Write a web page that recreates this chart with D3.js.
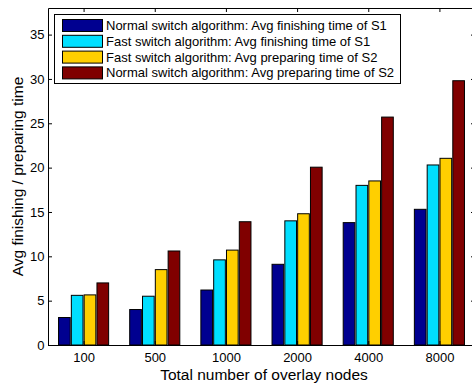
<!DOCTYPE html>
<html>
<head>
<meta charset="utf-8">
<script src="https://cdn.jsdelivr.net/npm/d3@7"></script>
<style>
  html, body { margin: 0; padding: 0; background: #fff; }
  svg { display: block; font-family: "Liberation Sans", Arial, Helvetica, sans-serif; }
</style>
</head>
<body>
<svg id="chart" width="472" height="386"></svg>
<script>
// Number of overlay nodes on the x axis
const categories = ["100", "500", "1000", "2000", "4000", "8000"];

// One array per series, in category order
const normalFinishS1 = [3.1, 4.0, 6.2, 9.1, 13.8, 15.3];
const fastFinishS1   = [5.6, 5.5, 9.6, 14.0, 18.0, 20.3];
const fastPrepareS2  = [5.65, 8.5, 10.7, 14.8, 18.5, 21.05];
const normalPrepareS2 = [7.0, 10.6, 13.9, 20.05, 25.7, 29.8];

const seriesNames = [
  "Normal switch algorithm: Avg finishing time of S1",
  "Fast switch algorithm: Avg finishing time of S1",
  "Fast switch algorithm: Avg preparing time of S2",
  "Normal switch algorithm: Avg preparing time of S2"
];
const seriesValues = [normalFinishS1, fastFinishS1, fastPrepareS2, normalPrepareS2];
const seriesColors = ["#000090", "#00DFFF", "#FFCF00", "#800000"];

const yTicks = [0, 5, 10, 15, 20, 25, 30, 35];

const svg = d3.select("#chart");
const plotLeft = 48, plotRight = 475, plotTop = 8, plotBottom = 345;

// Bars sit at integer positions 1..n, axis spans half a slot either side
const x = d3.scaleLinear().domain([0.5, categories.length + 0.5]).range([plotLeft, plotRight]);
const y = d3.scaleLinear().domain([0, 38]).range([plotBottom, plotTop]);

const barStep = 0.18, barWidth = 0.164;

const groups = svg.append("g");
seriesValues.forEach((vals, s) => {
  groups.selectAll(null)
    .data(vals)
    .enter()
    .append("rect")
    .attr("x", (d, i) => x(i + 1 + (s - 1.5) * barStep - barWidth / 2))
    .attr("width", x(barWidth) - x(0))
    .attr("y", d => y(d))
    .attr("height", d => y(0) - y(d))
    .attr("fill", seriesColors[s])
    .attr("stroke", "#000")
    .attr("stroke-width", 1);
});

// Axes: ticks point inward on all four sides
const tickVals = categories.map((c, i) => i + 1);
const xBottom = d3.axisBottom(x).tickValues(tickVals).tickFormat((d, i) => categories[i])
  .tickSizeInner(-4).tickSizeOuter(0).tickPadding(7.5);
const xTop = d3.axisTop(x).tickValues(tickVals).tickFormat("").tickSizeInner(-4).tickSizeOuter(0);
const yLeft = d3.axisLeft(y).tickValues(yTicks).tickSizeInner(-4).tickSizeOuter(0).tickPadding(3.5);
const yRight = d3.axisRight(y).tickValues(yTicks).tickFormat("").tickSizeInner(-4).tickSizeOuter(0);

function styleAxis(g) {
  g.select(".domain").attr("stroke", "#000").attr("stroke-width", 1);
  g.selectAll(".tick line").attr("stroke", "#000");
  g.selectAll(".tick text").attr("fill", "#000").style("font-size", "13px")
    .style("font-family", "Liberation Sans, Arial, sans-serif");
}

svg.append("g").attr("transform", `translate(0,${plotBottom})`).call(xBottom).call(styleAxis);
svg.append("g").attr("transform", `translate(0,${plotTop})`).call(xTop).call(styleAxis);
svg.append("g").attr("transform", `translate(${plotLeft},0)`).call(yLeft).call(styleAxis);
svg.append("g").attr("transform", `translate(${plotRight},0)`).call(yRight).call(styleAxis);

// Axis titles
svg.append("text")
  .attr("x", 264)
  .attr("y", 380)
  .attr("text-anchor", "middle")
  .style("font-size", "15.5px")
  .text("Total number of overlay nodes");

svg.append("text")
  .attr("transform", `translate(23,${(plotTop + plotBottom) / 2}) rotate(-90)`)
  .attr("text-anchor", "middle")
  .style("font-size", "15.5px")
  .text("Avg finishing / preparing time");

// Legend in the upper-left corner
const legend = svg.append("g").attr("transform", "translate(54.5,14.5)");
legend.append("rect")
  .attr("width", 346).attr("height", 69)
  .attr("fill", "#fff").attr("stroke", "#000").attr("stroke-width", 1);
seriesNames.forEach((name, i) => {
  const row = legend.append("g").attr("transform", `translate(0,${5 + i * 15.8})`);
  row.append("rect")
    .attr("x", 8).attr("y", 0).attr("width", 40).attr("height", 12)
    .attr("fill", seriesColors[i]).attr("stroke", "#000");
  row.append("text")
    .attr("x", 51.5).attr("y", 10.5)
    .style("font-size", "13px")
    .text(name);
});
</script>
</body>
</html>
